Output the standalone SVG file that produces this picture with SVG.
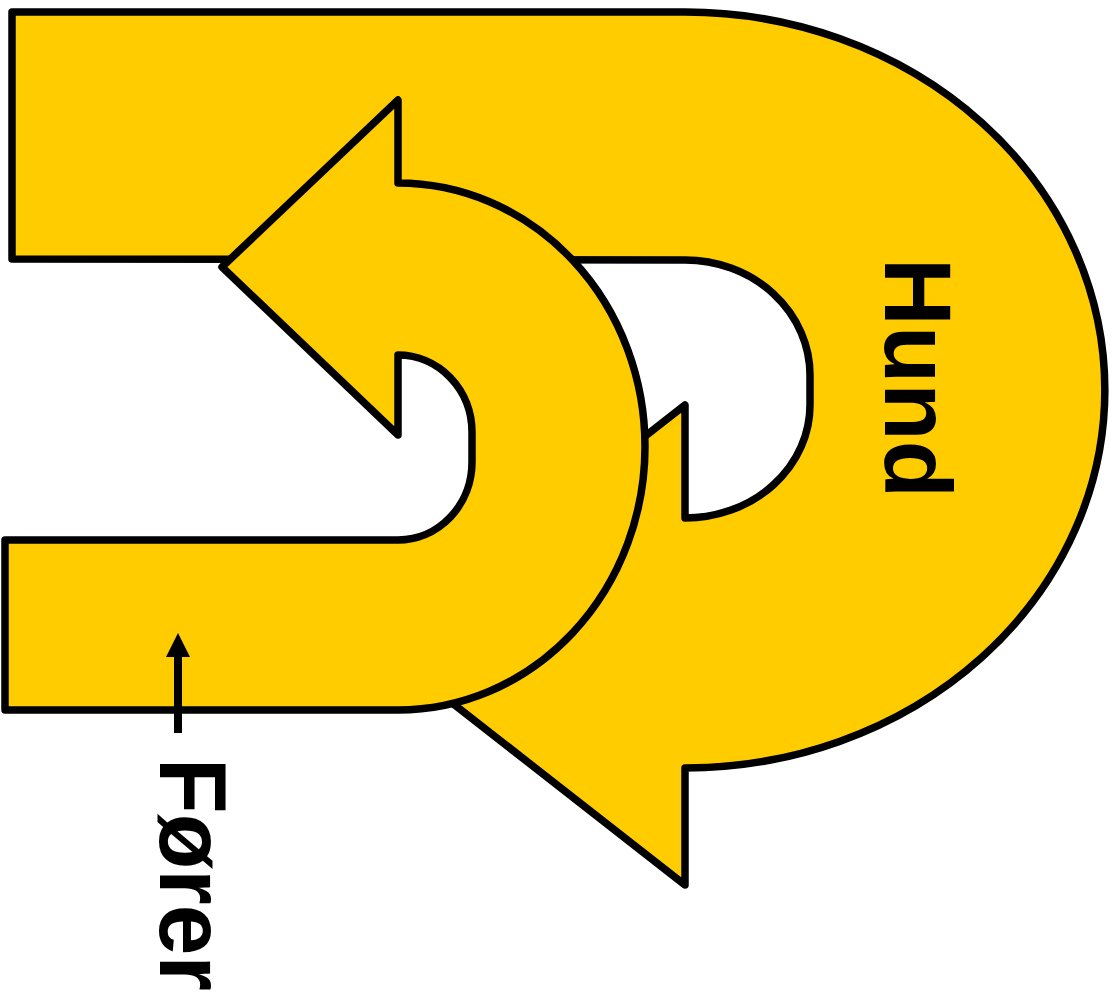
<svg xmlns="http://www.w3.org/2000/svg" width="1117" height="999" viewBox="0 0 1117 999">
<style>
.shape{fill:#FFCC00;stroke:#000;stroke-width:7.5;stroke-linejoin:round}
.lbl{font-family:"Liberation Sans",Arial,sans-serif;font-weight:bold;font-size:94px;fill:#000}
</style>
<defs>
<marker id="ah" viewBox="0 0 24 24" markerWidth="24" markerHeight="24" refX="0" refY="12" markerUnits="userSpaceOnUse" orient="auto">
<path d="M0,0 L24,12 L0,24 Z" fill="#000"/>
</marker>
</defs>
<rect width="1117" height="999" fill="#fff"/>
<g id="hund">
<path class="shape" d="M12,12 L685,12 A420,378 0 0 1 685,768 L685,885 L378,645 L685,405 L685,518 A125,113 0 0 0 810,405 L810,375 A125,115 0 0 0 685,260 L12,259 Z"/>
<text class="lbl" transform="translate(885,258) rotate(90)">Hund</text>
</g>
<g id="forer">
<path class="shape" d="M5,540 L398,540 A74,78 0 0 0 472,462 L472,432 A74,77 0 0 0 398,355 L398,435 L222,267 L398,100 L398,183 A247,263.5 0 0 1 398,710 L5,710 Z"/>
<text class="lbl" transform="translate(160,758) rotate(90)" textLength="233" lengthAdjust="spacingAndGlyphs">Fører</text>
</g>
<g id="connectors">
<line x1="178" y1="733" x2="178" y2="657" stroke="#000" stroke-width="8" marker-end="url(#ah)"/>
</g>
</svg>
